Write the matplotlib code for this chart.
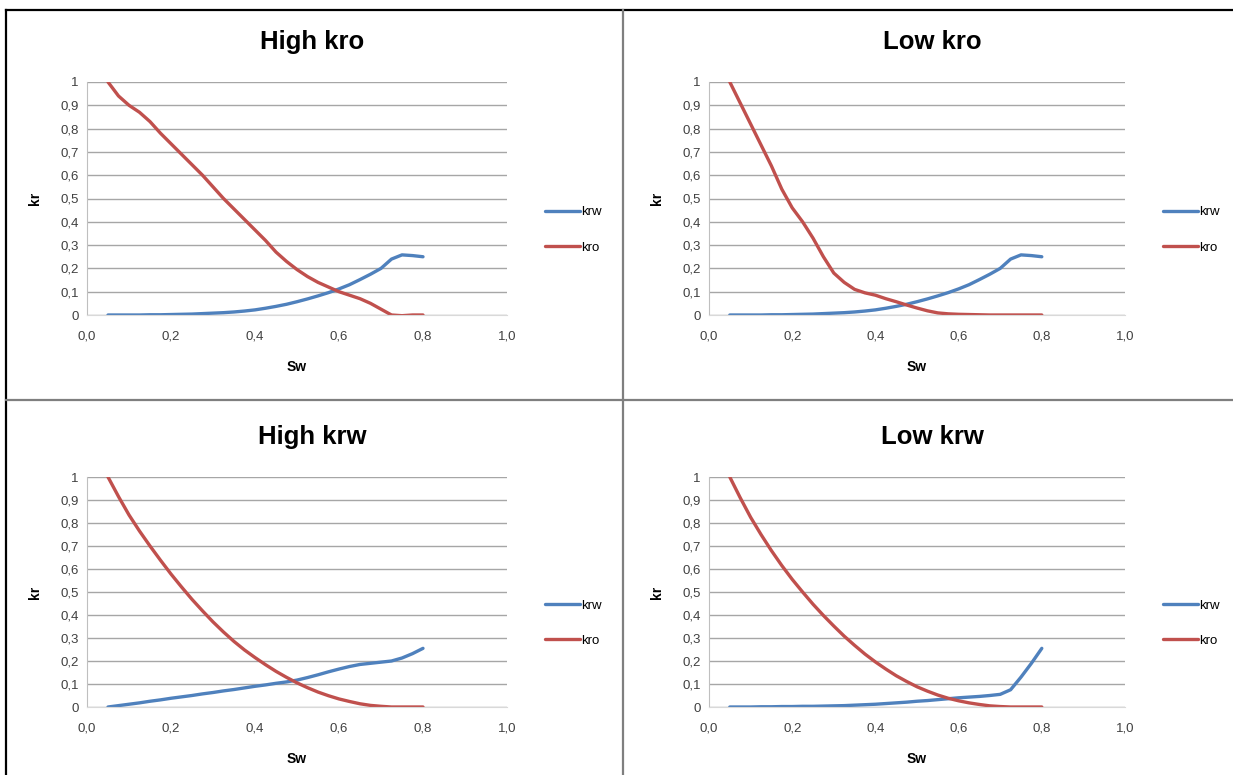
import matplotlib
matplotlib.use("Agg")
import matplotlib.pyplot as plt
from matplotlib.lines import Line2D
from matplotlib.ticker import FuncFormatter

# Water saturation points shared by all four cases
sw = [0.05, 0.075, 0.10, 0.125, 0.15, 0.175, 0.20, 0.225, 0.25, 0.275,
      0.30, 0.325, 0.35, 0.375, 0.40, 0.425, 0.45, 0.475, 0.50, 0.525,
      0.55, 0.575, 0.60, 0.625, 0.65, 0.675, 0.70, 0.725, 0.75, 0.775, 0.80]

# High kro
krw_high_kro = [0.0, 0.0, 0.0, 0.0, 0.001, 0.001, 0.002, 0.003, 0.004, 0.006,
                0.008, 0.010, 0.013, 0.017, 0.022, 0.029, 0.037, 0.046, 0.057, 0.069,
                0.082, 0.096, 0.112, 0.130, 0.152, 0.175, 0.200, 0.240, 0.258, 0.255, 0.250]
kro_high_kro = [1.0, 0.94, 0.90, 0.87, 0.83, 0.78, 0.735, 0.69, 0.645, 0.60,
                0.55, 0.50, 0.455, 0.41, 0.365, 0.32, 0.27, 0.23, 0.195, 0.165,
                0.14, 0.12, 0.10, 0.085, 0.07, 0.05, 0.025, 0.0, -0.003, 0.0, 0.0]

# Low kro
krw_low_kro = krw_high_kro
kro_low_kro = [1.0, 0.91, 0.82, 0.73, 0.64, 0.54, 0.46, 0.40, 0.33, 0.25,
               0.18, 0.14, 0.11, 0.095, 0.085, 0.07, 0.057, 0.043, 0.03, 0.018,
               0.009, 0.005, 0.003, 0.002, 0.001, 0.0, 0.0, 0.0, 0.0, 0.0, 0.0]

# High krw
krw_high_krw = [0.0, 0.006, 0.012, 0.018, 0.025, 0.031, 0.038, 0.044, 0.050, 0.057,
                0.063, 0.070, 0.076, 0.083, 0.090, 0.096, 0.103, 0.109, 0.117, 0.128,
                0.140, 0.153, 0.165, 0.176, 0.185, 0.190, 0.195, 0.200, 0.213, 0.232, 0.255]
kro_high_krw = [1.0, 0.915, 0.835, 0.765, 0.70, 0.638, 0.578, 0.522, 0.468, 0.418,
                0.37, 0.326, 0.285, 0.248, 0.215, 0.184, 0.155, 0.129, 0.105, 0.084,
                0.065, 0.049, 0.035, 0.024, 0.014, 0.007, 0.003, 0.0, 0.0, 0.0, 0.0]

# Low krw
krw_low_krw = [0.0, 0.0, 0.0, 0.001, 0.001, 0.002, 0.002, 0.003, 0.003, 0.004,
               0.005, 0.006, 0.008, 0.010, 0.012, 0.015, 0.018, 0.021, 0.025, 0.028,
               0.032, 0.036, 0.040, 0.043, 0.046, 0.050, 0.055, 0.075, 0.130, 0.190, 0.255]
kro_low_krw = [1.0, 0.91, 0.825, 0.75, 0.68, 0.615, 0.555, 0.50, 0.447, 0.398,
               0.352, 0.308, 0.268, 0.23, 0.196, 0.165, 0.136, 0.111, 0.088, 0.069,
               0.052, 0.038, 0.027, 0.018, 0.011, 0.005, 0.002, 0.0, 0.0, 0.0, 0.0]

titles = ["High kro", "Low kro", "High krw", "Low krw"]
series = [(krw_high_kro, kro_high_kro), (krw_low_kro, kro_low_kro),
          (krw_high_krw, kro_high_krw), (krw_low_krw, kro_low_krw)]

BLUE = "#4F81BD"
RED = "#C0504D"
W, H = 1233, 775

plt.rcParams["font.family"] = ["Liberation Sans", "DejaVu Sans"]

fig = plt.figure(figsize=(W / 100, H / 100), dpi=100)


def comma(v, pos, dec):
    if dec == 0:
        s = f"{v:.1f}".replace(".", ",")
        if abs(v - round(v)) < 1e-9:
            return str(int(round(v)))
        return s
    return f"{v:.{dec}f}".replace(".", ",")


# axes boxes in pixels: left, top, right, bottom
boxes = [(87, 82, 507, 315), (709, 82, 1125, 315),
         (87, 477, 507, 707), (709, 477, 1125, 707)]

for i, (title, (krw, kro), box) in enumerate(zip(titles, series, boxes)):
    l, t, r, b = box
    ax = fig.add_axes([l / W, 1 - b / H, (r - l) / W, (b - t) / H])
    ax.plot(sw, krw, color=BLUE, lw=2.4, label="krw", solid_capstyle="round")
    ax.plot(sw, kro, color=RED, lw=2.4, label="kro", solid_capstyle="round")
    ax.set_xlim(0, 1)
    ax.set_ylim(0, 1)
    ax.set_xticks([0, 0.2, 0.4, 0.6, 0.8, 1.0])
    ax.set_yticks([k / 10 for k in range(11)])
    ax.xaxis.set_major_formatter(FuncFormatter(lambda v, p: comma(v, p, 1)))
    ax.yaxis.set_major_formatter(FuncFormatter(lambda v, p: comma(v, p, 0)))
    ax.tick_params(length=0, labelsize=9.5, colors="#404040", pad=6)
    ax.tick_params(axis="x", pad=11)
    ax.grid(axis="y", color="#A6A6A6", lw=1.0)
    ax.set_axisbelow(True)
    for s in ["top", "right"]:
        ax.spines[s].set_visible(False)
    ax.spines["left"].set_color("#BFBFBF")
    ax.spines["bottom"].set_color("#D9D9D9")
    ax.set_xlabel("Sw", fontsize=10, fontweight="bold", labelpad=13)
    ax.set_ylabel("kr", fontsize=10, fontweight="bold", labelpad=13)

    cx = (l + r) / 2 + 15
    ty = 42 if i < 2 else 437
    fig.text(cx / W, 1 - ty / H, title, ha="center", va="center",
             fontsize=18.5, fontweight="bold")

    ax.legend(loc="center left", bbox_to_anchor=((r + 33 - l) / (r - l), 0.365),
              frameon=False, fontsize=9.5, handlelength=2.6, handletextpad=0.1,
              labelspacing=1.75, borderaxespad=0)

# panel borders
lines = [((6, 6), (10, H)), ((6, W), (10, 10)),
         ((623, 623), (10, H)), ((6, W), (400, 400))]
for k, (xs, ys) in enumerate(lines):
    col = "black" if k < 2 else "#7F7F7F"
    fig.add_artist(Line2D([x / W for x in xs], [1 - y / H for y in ys],
                          color=col, lw=1.6, transform=fig.transFigure))

fig.savefig("out.png", dpi=100, facecolor="white")
